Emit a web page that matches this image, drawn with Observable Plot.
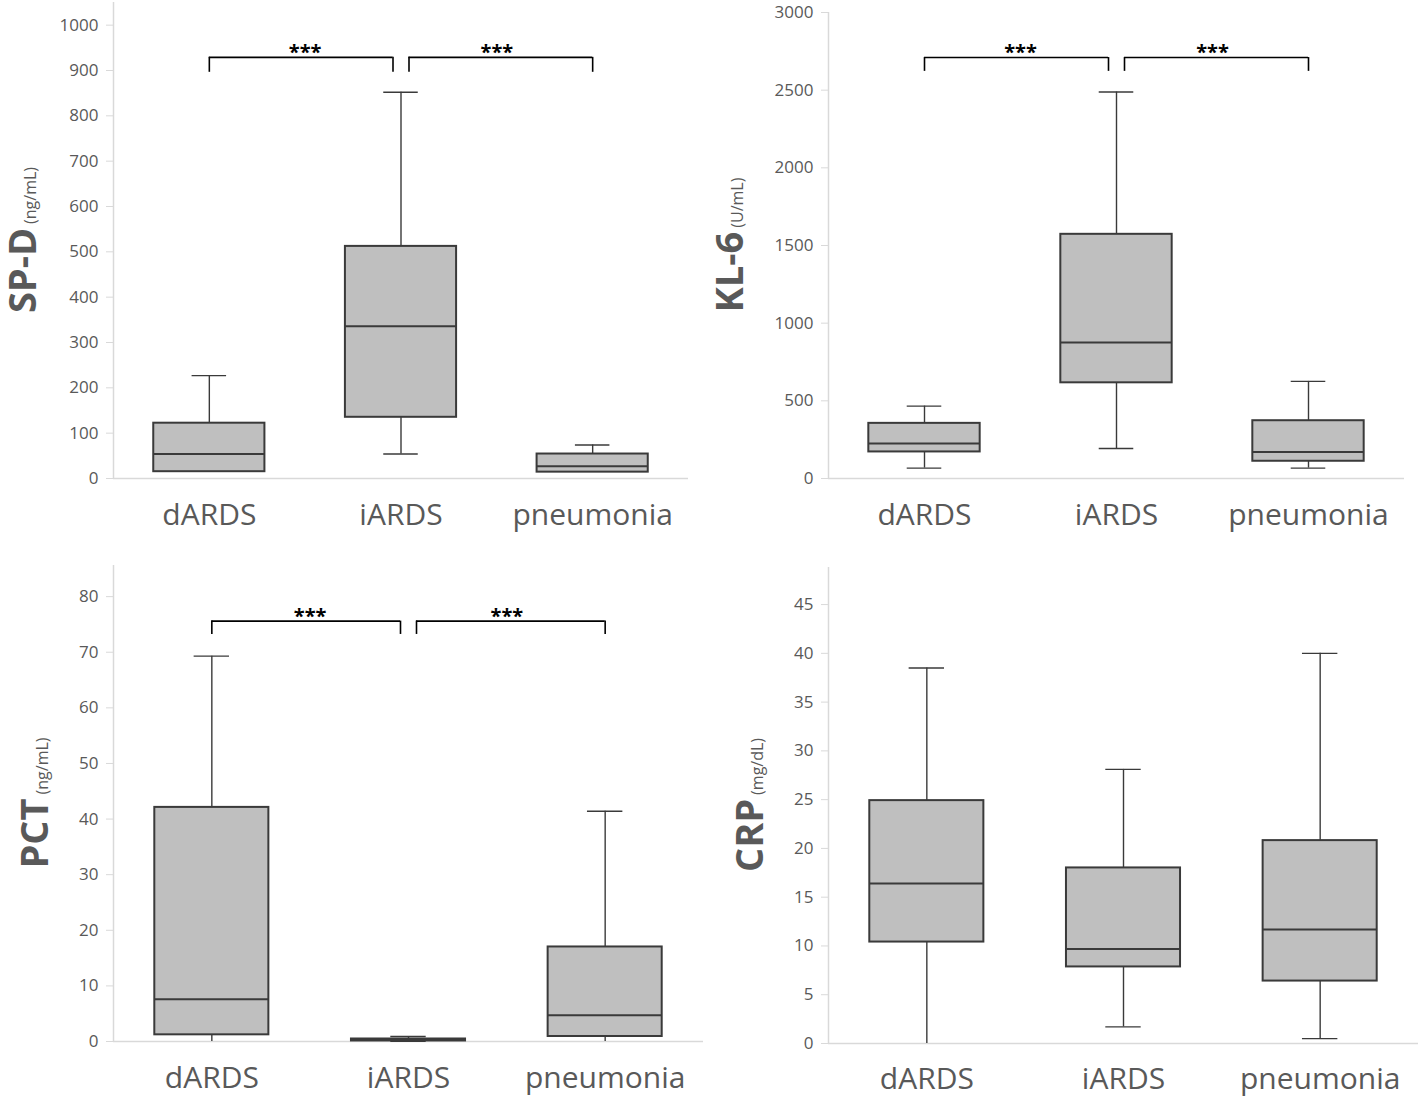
<!DOCTYPE html>
<html>
<head>
<meta charset="utf-8">
<script src="https://cdn.jsdelivr.net/npm/d3@7"></script>
<script src="https://cdn.jsdelivr.net/npm/@observablehq/plot@0.6"></script>
<style>
  body { margin: 0; background: #fff; }
  #root { position: relative; width: 1418px; height: 1099px; overflow: hidden; font-family: "Open Sans", sans-serif; }
  .panel { position: absolute; }
  .panel svg { overflow: visible; display: block; }
</style>
</head>
<body>
<div id="root"></div>
<script>
// ---- data ----
const categories = ["dARDS", "iARDS", "pneumonia"];
// each row: [min, q1, median, q3, max]
const spdBoxes = [[15, 15, 54, 122, 227], [54, 135, 336, 512, 852], [14, 14, 27, 54, 74]];
const kl6Boxes = [[67, 171, 226, 355, 466], [193, 616, 876, 1572, 2488], [67, 111, 171, 372, 625]];
const pctBoxes = [[0, 1.2, 7.6, 42.1, 69.3], [0.05, 0.1, 0.25, 0.45, 0.9], [0, 0.9, 4.7, 17.0, 41.4]];
const crpBoxes = [[0, 10.4, 16.4, 24.9, 38.5], [1.7, 7.85, 9.7, 18.0, 28.1], [0.5, 6.4, 11.7, 20.8, 40.0]];
const spdTicks = [0, 100, 200, 300, 400, 500, 600, 700, 800, 900, 1000];
const kl6Ticks = [0, 500, 1000, 1500, 2000, 2500, 3000];
const pctTicks = [0, 10, 20, 30, 40, 50, 60, 70, 80];
const crpTicks = [0, 5, 10, 15, 20, 25, 30, 35, 40, 45];
const comparisons = [["dARDS", "iARDS"], ["iARDS", "pneumonia"]];
const significance = ["***", "***"];

const panels = [
  { boxes: spdBoxes, ticks: spdTicks, name: "SP-D", unit: "(ng/mL)", yMax: 1050, bracketY: 929, tipY: 896,
    left: 0, top: 0, width: 700, height: 550, mL: 113, mR: 12, mT: 2, mB: 72, titleOff: 77, labelPad: 25 },
  { boxes: kl6Boxes, ticks: kl6Ticks, name: "KL-6", unit: "(U/mL)", yMax: 3000, bracketY: 2710, tipY: 2621,
    left: 710, top: 0, width: 706, height: 550, mL: 118, mR: 12, mT: 12, mB: 72, titleOff: 85, labelPad: 25 },
  { boxes: pctBoxes, ticks: pctTicks, name: "PCT", unit: "(ng/mL)", yMax: 85.6, bracketY: 75.6, tipY: 73.2,
    left: 0, top: 550, width: 710, height: 549, mL: 113, mR: 7, mT: 15, mB: 58, titleOff: 65, labelPad: 25 },
  { boxes: crpBoxes, ticks: crpTicks, name: "CRP", unit: "(mg/dL)", yMax: 48.8, bracketY: null, tipY: null,
    left: 710, top: 550, width: 708, height: 549, mL: 118, mR: 0, mT: 17, mB: 56, titleOff: 65, labelPad: 24 }
];

const root = document.getElementById("root");
const dark = "#3a3a3a";
const grey = "#595959";
const axisGrey = "#d9d9d9";

function shared() {
  const all = comparisons.flat();
  return categories.find(c => all.filter(x => x === c).length > 1);
}

function drawPanel(p) {
  const rows = p.boxes.map((b, i) => ({ i, min: b[0], q1: b[1], med: b[2], q3: b[3], max: b[4] }));
  const half = 0.29, cap = 0.09, gap = 8;
  const mid = categories.indexOf(shared());
  const bracketMarks = p.bracketY == null ? [] : comparisons.flatMap((c, k) => {
    const br = { a: categories.indexOf(c[0]), b: categories.indexOf(c[1]), y: p.bracketY, tip: p.tipY, label: significance[k] };
    const inL = br.a === mid ? gap : 0, inR = br.b === mid ? gap : 0;
    return [
      Plot.ruleY([br], { y: "y", x1: "a", x2: "b", insetLeft: inL, insetRight: inR, stroke: "#000", strokeWidth: 1.6 }),
      Plot.ruleX([br], { x: "a", y1: "tip", y2: "y", dx: inL, stroke: "#000", strokeWidth: 1.6 }),
      Plot.ruleX([br], { x: "b", y1: "tip", y2: "y", dx: -inR, stroke: "#000", strokeWidth: 1.6 }),
      Plot.text([br], { x: d => (d.a + d.b) / 2, y: "y", text: "label", dy: -5, fontSize: 20, fontWeight: "bold", fill: "#000" })
    ];
  });

  const svg = Plot.plot({
    width: p.width, height: p.height,
    marginLeft: p.mL, marginRight: p.mR, marginTop: p.mT, marginBottom: p.mB,
    style: { fontFamily: "'Open Sans', sans-serif", background: "transparent", overflow: "visible" },
    x: { domain: [-0.5, 2.5], axis: null, label: null },
    y: { domain: [0, p.yMax], axis: null, label: null },
    marks: [
      Plot.ruleX([-0.5], { stroke: axisGrey, strokeWidth: 1.5 }),
      Plot.ruleY([0], { stroke: axisGrey, strokeWidth: 1.5 }),
      Plot.axisY(p.ticks, { label: null, tickSize: 7, tickPadding: 8, stroke: axisGrey, fill: grey, fontSize: 17, tickFormat: d => String(d) }),
      Plot.axisX([0, 1, 2], { label: null, tickSize: 0, tickPadding: p.labelPad, fill: grey, fontSize: 30, tickFormat: i => categories[i] }),
      Plot.ruleX(rows, { x: "i", y1: "min", y2: "q1", stroke: dark, strokeWidth: 1.4 }),
      Plot.ruleX(rows, { x: "i", y1: "q3", y2: "max", stroke: dark, strokeWidth: 1.4 }),
      Plot.ruleY(rows.filter(d => d.min > 0 && d.min < d.q1), { y: "min", x1: d => d.i - cap, x2: d => d.i + cap, stroke: dark, strokeWidth: 1.4 }),
      Plot.ruleY(rows, { y: "max", x1: d => d.i - cap, x2: d => d.i + cap, stroke: dark, strokeWidth: 1.4 }),
      Plot.rect(rows, { x1: d => d.i - half, x2: d => d.i + half, y1: "q1", y2: "q3", fill: "#bfbfbf", stroke: dark, strokeWidth: 2 }),
      Plot.ruleY(rows, { y: "med", x1: d => d.i - half, x2: d => d.i + half, stroke: dark, strokeWidth: 2 }),
      ...bracketMarks
    ]
  });

  const cy = (p.mT + (p.height - p.mB)) / 2;
  const t = d3.select(svg).append("text")
    .attr("transform", `translate(${p.mL - p.titleOff},${cy}) rotate(-90)`)
    .attr("text-anchor", "middle")
    .attr("fill", grey);
  t.append("tspan").attr("font-size", 38).attr("font-weight", "bold")
    .attr("font-family", "'Liberation Sans Narrow', 'Open Sans', sans-serif").text(p.name);
  t.append("tspan").attr("font-size", 16).attr("dx", 4)
    .attr("font-family", "'Open Sans', sans-serif").text(p.unit);

  const div = document.createElement("div");
  div.className = "panel";
  div.style.left = p.left + "px";
  div.style.top = p.top + "px";
  div.appendChild(svg);
  root.appendChild(div);
}

panels.forEach(drawPanel);
</script>
</body>
</html>
